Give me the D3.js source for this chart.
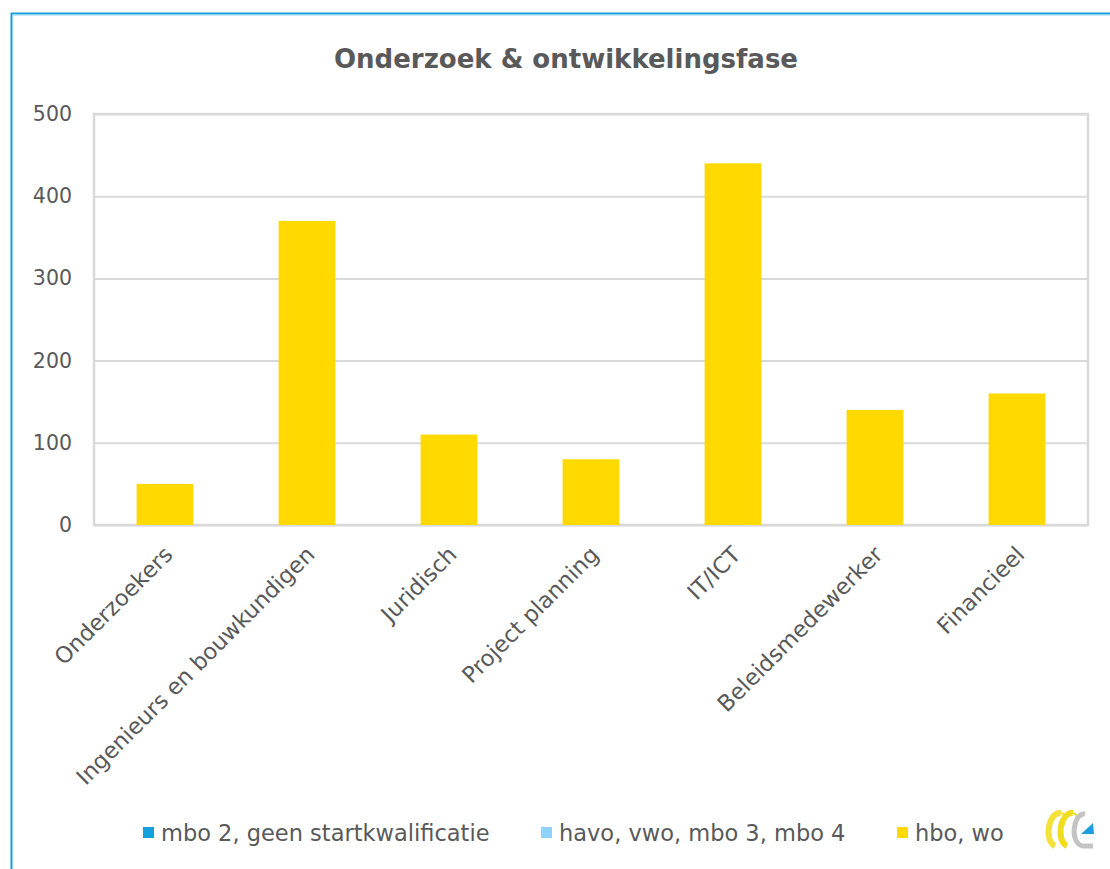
<!DOCTYPE html>
<html>
<head>
<meta charset="utf-8">
<script src="https://cdn.jsdelivr.net/npm/d3@7"></script>
<style>
  html, body { margin: 0; padding: 0; background: #ffffff; }
  svg { display: block; }
</style>
</head>
<body>
<svg id="chart" width="1110" height="869"></svg>
<script>
// ---- data ----
const title = "Onderzoek & ontwikkelingsfase";
const categories = ["Onderzoekers", "Ingenieurs en bouwkundigen", "Juridisch", "Project planning", "IT/ICT", "Beleidsmedewerker", "Financieel"];
const seriesNames = ["mbo 2, geen startkwalificatie", "havo, vwo, mbo 3, mbo 4", "hbo, wo"];
const mbo2Values = [0, 0, 0, 0, 0, 0, 0];
const havoValues = [0, 0, 0, 0, 0, 0, 0];
const hboValues = [50, 370, 110, 80, 440, 140, 160];
const yTicks = [0, 100, 200, 300, 400, 500];

const colors = ["#13a0dc", "#8fd2fc", "#ffd900"];
const textColor = "#595959";
const fontFamily = "'DejaVu Sans', sans-serif";

const svg = d3.select("#chart");

// frame (blue border of the chart object)
svg.append("line").attr("x1", 11.5).attr("y1", 13).attr("x2", 11.5).attr("y2", 869)
  .attr("stroke", "#1a9bd7").attr("stroke-width", 2);
svg.append("line").attr("x1", 11).attr("y1", 13.5).attr("x2", 1110).attr("y2", 13.5)
  .attr("stroke", "#1a9bd7").attr("stroke-width", 2);
svg.append("line").attr("x1", 12.5).attr("y1", 15).attr("x2", 1110).attr("y2", 15)
  .attr("stroke", "#8fd6f4").attr("stroke-width", 1);

const plot = { left: 94, right: 1088, top: 114, bottom: 525 };

const x = d3.scaleBand().domain(categories).range([plot.left, plot.right])
  .paddingInner(0.6).paddingOuter(0.3);
const y = d3.scaleLinear().domain([0, 500]).range([plot.bottom, plot.top]);

// gridlines + y tick labels
const yAxis = d3.axisLeft(y).tickValues(yTicks).tickSize(-(plot.right - plot.left)).tickFormat(d3.format("d")).tickPadding(22);
const gy = svg.append("g").attr("transform", `translate(${plot.left},0)`).call(yAxis);
gy.select(".domain").remove();
gy.selectAll(".tick line").attr("stroke", "#d9d9d9").attr("stroke-width", 2);
gy.selectAll(".tick text").attr("fill", textColor).attr("font-family", fontFamily).attr("font-size", 20.5);

// plot area border
svg.append("rect").attr("x", plot.left).attr("y", plot.top)
  .attr("width", plot.right - plot.left).attr("height", plot.bottom - plot.top)
  .attr("fill", "none").attr("stroke", "#d9d9d9").attr("stroke-width", 2.5);

// stacked bars (only hbo, wo has values)
const stackData = categories.map((c, i) => ({ cat: c, s0: mbo2Values[i], s1: havoValues[i], s2: hboValues[i] }));
const stack = d3.stack().keys(["s0", "s1", "s2"])(stackData);
svg.append("g").selectAll("g").data(stack).join("g")
  .attr("fill", (d, i) => colors[i])
  .selectAll("rect").data(d => d).join("rect")
  .attr("x", d => x(d.data.cat))
  .attr("y", d => y(d[1]))
  .attr("width", x.bandwidth())
  .attr("height", d => y(d[0]) - y(d[1]));

// x axis labels
const xAxis = d3.axisBottom(x).tickSize(0).tickPadding(0);
const gx = svg.append("g").attr("transform", `translate(0,${plot.bottom})`).call(xAxis);
gx.select(".domain").remove();
gx.selectAll(".tick text")
  .attr("fill", textColor).attr("font-family", fontFamily).attr("font-size", 22.5)
  .attr("text-anchor", "end")
  .attr("y", 0).attr("dy", 0)
  .attr("transform", "translate(9,31) rotate(-45)");

// title
svg.append("text").attr("x", 566).attr("y", 68).attr("text-anchor", "middle")
  .attr("fill", textColor).attr("font-family", fontFamily).attr("font-size", 26).attr("font-weight", "bold")
  .text(title);

// legend
const legendX = [143, 541, 897];
const lg = svg.append("g").selectAll("g").data(seriesNames).join("g")
  .attr("transform", (d, i) => `translate(${legendX[i]},827)`);
lg.append("rect").attr("width", 11).attr("height", 11).attr("fill", (d, i) => colors[i]);
lg.append("text").attr("x", 18).attr("y", 14).attr("fill", textColor)
  .attr("font-family", fontFamily).attr("font-size", 22.5).text(d => d);

// logo
const logo = svg.append("g").attr("transform", "translate(1043,810)");
function cshape(g, dx, color) {
  g.append("path").attr("d", `M${dx + 16},3 C${dx + 4},1 ${dx - 2},30 ${dx + 10},36`)
    .attr("fill", "none").attr("stroke", color).attr("stroke-width", 6).attr("stroke-linecap", "butt");
  g.append("path").attr("d", `M${dx + 16},3 C${dx + 22},4 ${dx + 20},14 ${dx + 17},18`)
    .attr("fill", "none").attr("stroke", color).attr("stroke-width", 2);
}
cshape(logo, 2, "#f4e23a");
cshape(logo, 14, "#f2dc20");
logo.append("path").attr("d", "M42,4 C30,2 26,34 40,36 L50,36")
  .attr("fill", "none").attr("stroke", "#c4c4c4").attr("stroke-width", 5);
logo.append("path").attr("d", "M38,24 L50,13 L51,24 Z").attr("fill", "#1c9ee0");
</script>
</body>
</html>
